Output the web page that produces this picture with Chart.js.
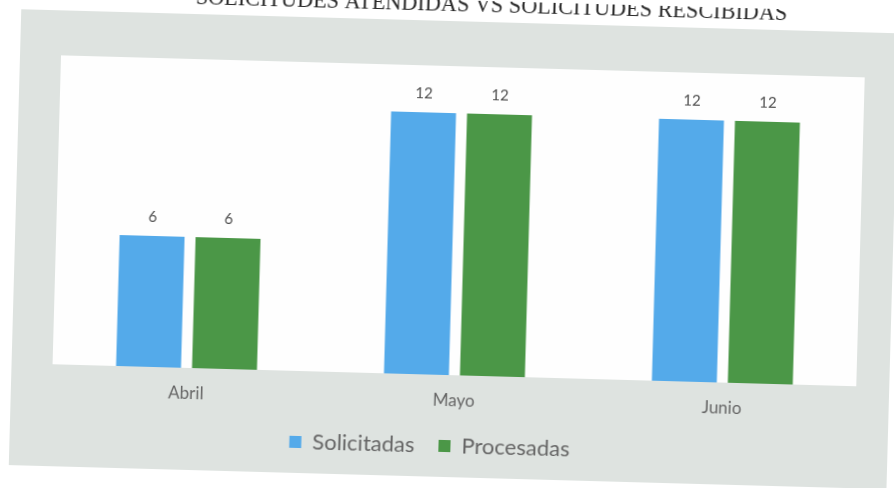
<!DOCTYPE html>
<html>
<head>
<meta charset="utf-8">
<script src="https://cdn.jsdelivr.net/npm/chart.js@4.4.1/dist/chart.umd.min.js"></script>
<style>
  html, body { margin: 0; padding: 0; background: #ffffff; overflow: hidden; }
  #wrap { position: relative; width: 894px; height: 488px; transform: rotate(1.57deg); transform-origin: 447px 244px; }
  canvas { display: block; }
</style>
</head>
<body>
<div id="wrap"><canvas id="c" width="894" height="488"></canvas></div>
<script>
const titleText = 'SOLICITUDES ATENDIDAS VS SOLICITUDES RESCIBIDAS';
const categories = ['Abril', 'Mayo', 'Junio'];
const solicitadas = [6, 12, 12];
const procesadas = [6, 12, 12];
const seriesNames = ['Solicitadas', 'Procesadas'];
const seriesColors = ['#54aaea', '#4b9747'];

const framePlugin = {
  id: 'frame',
  beforeDraw(chart) {
    const ctx = chart.ctx;
    const a = chart.chartArea;
    ctx.save();
    ctx.fillStyle = '#ffffff';
    ctx.fillRect(0, 0, chart.width, chart.height);
    ctx.fillStyle = '#dee3e0';
    ctx.fillRect(15, 21, 878, 456);
    ctx.fillStyle = '#fefefe';
    ctx.fillRect(a.left, a.top, a.right - a.left, a.bottom - a.top);
    // title (partly cut off at the top of the page)
    ctx.font = '100px "Liberation Serif"';
    const w = ctx.measureText(titleText).width;
    const size = 100 * 592 / w;
    ctx.font = size + 'px "Liberation Serif"';
    ctx.fillStyle = '#2a2a2a';
    ctx.textAlign = 'center';
    ctx.textBaseline = 'alphabetic';
    ctx.fillText(titleText, 485, 11);
    ctx.restore();
  }
};

const labelPlugin = {
  id: 'valueLabels',
  afterDatasetsDraw(chart) {
    const ctx = chart.ctx;
    ctx.save();
    ctx.font = '15px Lato';
    ctx.fillStyle = '#505050';
    ctx.textAlign = 'center';
    ctx.textBaseline = 'bottom';
    chart.data.datasets.forEach((ds, i) => {
      const meta = chart.getDatasetMeta(i);
      meta.data.forEach((el, j) => {
        ctx.fillText(String(ds.data[j]), el.x, el.y - 11);
      });
    });
    ctx.restore();
  }
};

new Chart(document.getElementById('c'), {
  type: 'bar',
  data: {
    labels: categories,
    datasets: [
      { label: seriesNames[0], data: solicitadas, backgroundColor: seriesColors[0] },
      { label: seriesNames[1], data: procesadas, backgroundColor: seriesColors[1] }
    ]
  },
  options: {
    responsive: false,
    animation: false,
    devicePixelRatio: 1,
    layout: { padding: { left: 10, right: 34, top: 66, bottom: 21 } },
    datasets: { bar: { categoryPercentage: 0.567, barPercentage: 0.855 } },
    scales: {
      x: {
        grid: { display: false, drawTicks: false },
        border: { display: false },
        ticks: { font: { family: 'Lato', size: 17 }, color: '#666666', padding: 15 },
        afterFit(scale) { scale.height = 36; }
      },
      y: {
        min: 0, max: 14.15,
        grid: { display: false, drawTicks: false },
        border: { display: false },
        ticks: { display: false },
        afterFit(scale) { scale.width = 46; }
      }
    },
    plugins: {
      legend: {
        position: 'bottom',
        labels: {
          boxWidth: 12, boxHeight: 12, padding: 24,
          font: { family: 'Lato', size: 22 }, color: '#666666'
        }
      },
      tooltip: { enabled: false },
      title: { display: false }
    }
  },
  plugins: [framePlugin, labelPlugin]
});
</script>
</body>
</html>
